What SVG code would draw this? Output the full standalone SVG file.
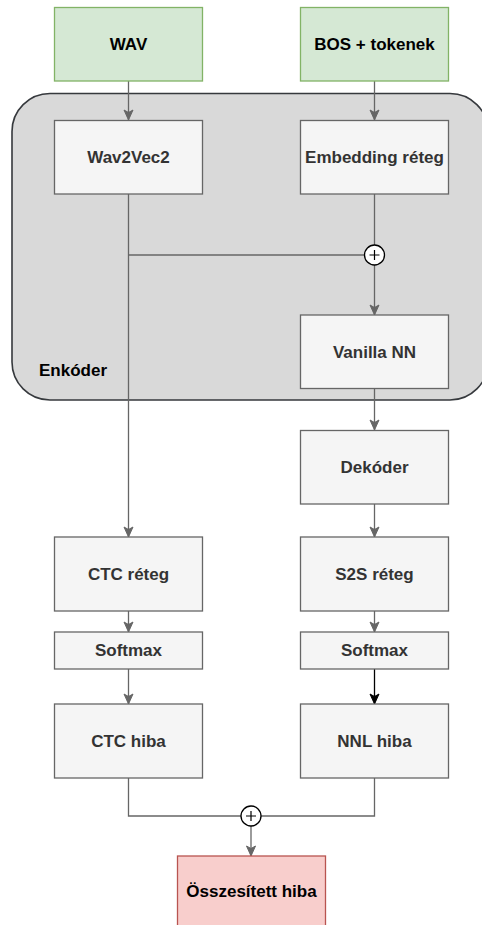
<svg xmlns="http://www.w3.org/2000/svg" width="482" height="925" viewBox="0 0 482 925">
<defs>
<marker id="ag" markerUnits="userSpaceOnUse" markerWidth="12" markerHeight="12" viewBox="0 0 12 12" refX="11" refY="6" orient="auto">
<path d="M1,1.5 L11,6 L1,10.5 L3.5,6 Z" fill="#666666" stroke="#666666" stroke-width="1"/>
</marker>
<marker id="ab" markerUnits="userSpaceOnUse" markerWidth="12" markerHeight="12" viewBox="0 0 12 12" refX="11" refY="6" orient="auto">
<path d="M1,1.5 L11,6 L1,10.5 L3.5,6 Z" fill="#000000" stroke="#000000" stroke-width="1"/>
</marker>
<style>
.box{fill:#f5f5f5;stroke:#666666;stroke-width:1.3}
.green{fill:#d5e8d4;stroke:#82b366;stroke-width:1.3}
.red{fill:#f8cecc;stroke:#b85450;stroke-width:1.3}
.t{font-family:"Liberation Sans",Arial,sans-serif;font-size:17px;font-weight:bold;fill:#333333;text-anchor:middle;dominant-baseline:central}
.tk{fill:#000000}
.c{fill:none;stroke:#666666;stroke-width:1.3}
.cg{marker-end:url(#ag)}
.sum{fill:#ffffff;stroke:#000000;stroke-width:1.3}
.plus{stroke:#000000;stroke-width:1.2;fill:none}
</style>
</defs>

<g id="enkoder">
<rect x="12" y="93.5" width="476" height="306.5" rx="38" ry="38" fill="#d9d9d9" stroke="#36393d" stroke-width="1.6"/>
<text class="t tk" x="39" y="370" style="text-anchor:start">Enkóder</text>
</g>

<g id="connectors">
<path class="c cg" d="M128.5,81 V120"/>
<path class="c cg" d="M374.5,81 V120"/>
<path class="c" d="M374.5,194 V245"/>
<path class="c cg" d="M128.5,194 V537"/>
<path class="c" d="M128.5,255 H364"/>
<path class="c cg" d="M374.5,265 V315"/>
<path class="c cg" d="M374.5,388 V430"/>
<path class="c cg" d="M374.5,504 V537"/>
<path class="c cg" d="M128.5,611 V632"/>
<path class="c cg" d="M374.5,611 V632"/>
<path class="c cg" d="M128.5,669 V704"/>
<path d="M374.5,669 V704" fill="none" stroke="#000000" stroke-width="1.3" marker-end="url(#ab)"/>
<path class="c" d="M128.5,778 V816 H241"/>
<path class="c" d="M374.5,778 V816 H261"/>
<path class="c cg" d="M251,826 V856"/>
</g>

<g id="sum1">
<circle class="sum" cx="374.5" cy="255" r="10"/>
<path class="plus" d="M369.5,255 H379.5 M374.5,250 V260"/>
</g>
<g id="sum2">
<circle class="sum" cx="251" cy="816" r="10"/>
<path class="plus" d="M246,816 H256 M251,811 V821"/>
</g>

<g id="wav"><rect class="green" x="54.5" y="7.5" width="148" height="73.5"/><text class="t tk" x="128.5" y="44">WAV</text></g>
<g id="bos"><rect class="green" x="300.5" y="7.5" width="148" height="73.5"/><text class="t tk" x="374.5" y="44">BOS + tokenek</text></g>
<g id="wav2vec2"><rect class="box" x="54.5" y="120.5" width="148" height="73.5"/><text class="t" x="128.5" y="157">Wav2Vec2</text></g>
<g id="embedding"><rect class="box" x="300.5" y="120.5" width="148" height="73.5"/><text class="t" x="374.5" y="157">Embedding réteg</text></g>
<g id="vanilla"><rect class="box" x="300.5" y="315" width="148" height="73.5"/><text class="t" x="374.5" y="352">Vanilla NN</text></g>
<g id="dekoder"><rect class="box" x="300.5" y="430.5" width="148" height="73.5"/><text class="t" x="374.5" y="467">Dekóder</text></g>
<g id="ctcreteg"><rect class="box" x="54.5" y="537" width="148" height="74"/><text class="t" x="128.5" y="574">CTC réteg</text></g>
<g id="s2sreteg"><rect class="box" x="300.5" y="537" width="148" height="74"/><text class="t" x="374.5" y="574">S2S réteg</text></g>
<g id="softmax1"><rect class="box" x="54.5" y="632" width="148" height="37"/><text class="t" x="128.5" y="650.5">Softmax</text></g>
<g id="softmax2"><rect class="box" x="300.5" y="632" width="148" height="37"/><text class="t" x="374.5" y="650.5">Softmax</text></g>
<g id="ctchiba"><rect class="box" x="54.5" y="704" width="148" height="74"/><text class="t" x="128.5" y="741">CTC hiba</text></g>
<g id="nnlhiba"><rect class="box" x="300.5" y="704" width="148" height="74"/><text class="t" x="374.5" y="741">NNL hiba</text></g>
<g id="osszesitett"><rect class="red" x="177.5" y="856" width="148" height="74"/><text class="t tk" x="251.5" y="891">Összesített hiba</text></g>
</svg>
